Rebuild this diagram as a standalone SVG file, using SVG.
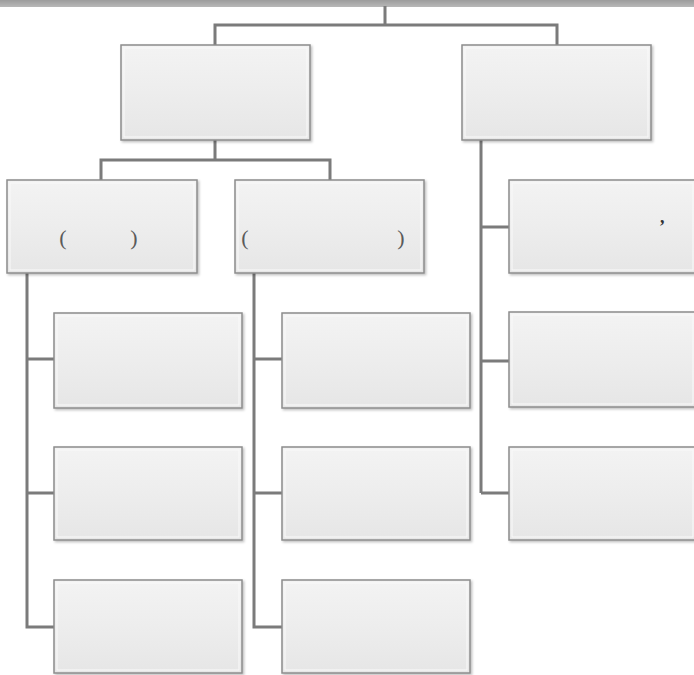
<svg xmlns="http://www.w3.org/2000/svg" width="694" height="675" viewBox="0 0 694 675">
  <defs>
    <linearGradient id="boxFill" x1="0" y1="0" x2="0" y2="1">
      <stop offset="0" stop-color="#f3f3f3"/>
      <stop offset="0.5" stop-color="#ededed"/>
      <stop offset="1" stop-color="#e6e6e6"/>
    </linearGradient>
    <linearGradient id="barFill" x1="0" y1="0" x2="0" y2="1">
      <stop offset="0" stop-color="#9c9c9c"/>
      <stop offset="1" stop-color="#b8b8b8"/>
    </linearGradient>
    <filter id="shadow" x="-5%" y="-5%" width="112%" height="115%">
      <feDropShadow dx="1.5" dy="1.5" stdDeviation="1.2" flood-color="#000" flood-opacity="0.25"/>
    </filter>
  </defs>
  <style>
    .box { fill: url(#boxFill); stroke: #8c8c8c; stroke-width: 1.5; filter: url(#shadow); }
    .inner { fill: none; stroke: #fafafa; stroke-width: 1; }
    .conn { fill: none; stroke: #7b7b7b; stroke-width: 3; stroke-linejoin: miter; }
    .punct { font-family: "Liberation Serif", serif; font-size: 22px; fill: #5a5a5a; text-anchor: middle; }
    .comma { font-family: "Liberation Serif", serif; font-size: 18px; font-weight: bold; fill: #333; }
  </style>
  <rect x="0" y="0" width="694" height="675" fill="#ffffff"/>
  <rect x="0" y="0" width="694" height="7" fill="url(#barFill)"/>

  <g id="connectors">
    <path class="conn" d="M385,6 V25 M215,45 V25 H557 V45"/>
    <path class="conn" d="M215,140 V160 M101,180 V160 H330 V180"/>
    <path class="conn" d="M481,140 V493 M481,227 H509 M481,361 H509 M481,493 H509"/>
    <path class="conn" d="M27,273 V627 H54 M27,359 H54 M27,493 H54"/>
    <path class="conn" d="M254,273 V627 H282 M254,359 H282 M254,493 H282"/>
  </g>

  <g id="node-l1-left">
    <rect class="box" x="121" y="45" width="189" height="95"/>
    <rect class="inner" x="124" y="48" width="183" height="89"/>
  </g>
  <g id="node-l1-right">
    <rect class="box" x="462" y="45" width="189" height="95"/>
    <rect class="inner" x="465" y="48" width="183" height="89"/>
  </g>

  <g id="node-a">
    <rect class="box" x="7" y="180" width="190" height="93"/>
    <rect class="inner" x="10" y="183" width="184" height="87"/>
    <text class="punct" x="63" y="245">(</text>
    <text class="punct" x="134" y="245">)</text>
  </g>
  <g id="node-b">
    <rect class="box" x="235" y="180" width="189" height="93"/>
    <rect class="inner" x="238" y="183" width="183" height="87"/>
    <text class="punct" x="245" y="245">(</text>
    <text class="punct" x="401" y="245">)</text>
  </g>

  <g id="node-c1">
    <rect class="box" x="509" y="180" width="187" height="93"/>
    <rect class="inner" x="512" y="183" width="181" height="87"/>
    <text class="comma" x="660" y="223">,</text>
  </g>
  <g id="node-c2">
    <rect class="box" x="509" y="312" width="187" height="95"/>
    <rect class="inner" x="512" y="315" width="181" height="89"/>
  </g>
  <g id="node-c3">
    <rect class="box" x="509" y="447" width="187" height="93"/>
    <rect class="inner" x="512" y="450" width="181" height="87"/>
  </g>

  <g id="node-a1">
    <rect class="box" x="54" y="313" width="188" height="95"/>
    <rect class="inner" x="57" y="316" width="182" height="89"/>
  </g>
  <g id="node-a2">
    <rect class="box" x="54" y="447" width="188" height="93"/>
    <rect class="inner" x="57" y="450" width="182" height="87"/>
  </g>
  <g id="node-a3">
    <rect class="box" x="54" y="580" width="188" height="93"/>
    <rect class="inner" x="57" y="583" width="182" height="87"/>
  </g>

  <g id="node-b1">
    <rect class="box" x="282" y="313" width="188" height="95"/>
    <rect class="inner" x="285" y="316" width="182" height="89"/>
  </g>
  <g id="node-b2">
    <rect class="box" x="282" y="447" width="188" height="93"/>
    <rect class="inner" x="285" y="450" width="182" height="87"/>
  </g>
  <g id="node-b3">
    <rect class="box" x="282" y="580" width="188" height="93"/>
    <rect class="inner" x="285" y="583" width="182" height="87"/>
  </g>
</svg>
